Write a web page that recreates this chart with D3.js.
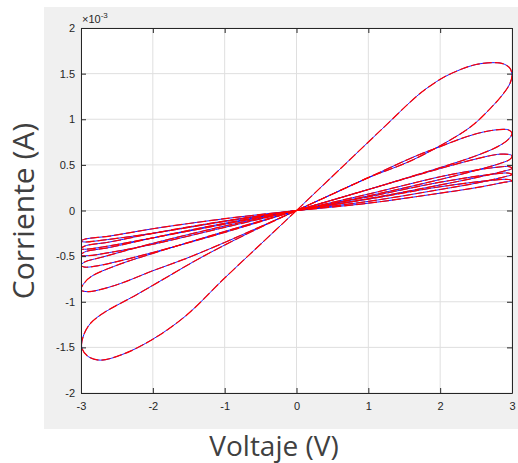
<!DOCTYPE html>
<html>
<head>
<meta charset="utf-8">
<script src="https://cdn.jsdelivr.net/npm/d3@7"></script>
<style>
  body { margin: 0; background: #fff; }
  svg { display: block; }
  .tick text { font-family: "Liberation Sans", Arial, sans-serif; font-size: 11px; fill: #262626; }
</style>
</head>
<body>
<svg id="chart" width="518" height="463"></svg>
<script>
// Memristor I-V loops (current in mA, shown with x10^-3 factor)

var xTicks = [-3, -2, -1, 0, 1, 2, 3];
var yTicks = [-2, -1.5, -1, -0.5, 0, 0.5, 1, 1.5, 2];

// first quadrant lobes: origin -> lower branch -> tip -> upper branch -> origin
var loop1Q1 = [[0,0],[0.5,0.18],[1,0.36],[1.55,0.53],[2,0.71],[2.43,0.92],[2.7,1.12],[2.88,1.28],[2.97,1.39],[3,1.48],[2.97,1.56],[2.87,1.61],[2.72,1.62],[2.5,1.6],[2.3,1.55],[2.05,1.46],[1.85,1.36],[1.67,1.25],[1.2,0.9],[0.6,0.45],[0,0]];
var loop2Q1 = [[0,0],[1,0.23],[1.67,0.39],[2,0.47],[2.5,0.6],[2.8,0.7],[2.95,0.78],[3,0.845],[2.96,0.88],[2.88,0.89],[2.6,0.86],[2.3,0.79],[2,0.7],[1.67,0.6],[1,0.36],[0,0]];
var loop3Q1 = [[0,0],[1,0.16],[2,0.34],[2.5,0.44],[2.85,0.52],[2.97,0.56],[3,0.6],[2.95,0.615],[2.8,0.615],[2.5,0.565],[2,0.46],[1,0.23],[0,0]];
var loop4Q1 = [[0,0],[1,0.13],[2,0.28],[2.5,0.36],[2.88,0.43],[3,0.46],[2.96,0.48],[2.75,0.47],[2.4,0.43],[2,0.37],[1,0.18],[0,0]];
var loop5Q1 = [[0,0],[1,0.1],[2,0.23],[2.5,0.3],[2.9,0.37],[3,0.395],[2.95,0.41],[2.7,0.395],[2,0.31],[1,0.15],[0,0]];
var loop6Q1 = [[0,0],[1,0.08],[2,0.19],[2.5,0.25],[2.9,0.31],[3,0.325],[2.95,0.34],[2.7,0.33],[2,0.26],[1,0.125],[0,0]];

// third quadrant lobes
var loop1Q3 = [[0,0],[-0.5,-0.37],[-1,-0.74],[-1.55,-1.16],[-2,-1.41],[-2.4,-1.57],[-2.73,-1.64],[-2.9,-1.6],[-2.99,-1.5],[-2.96,-1.36],[-2.86,-1.23],[-2.68,-1.12],[-2.22,-0.92],[-1.76,-0.71],[-1.34,-0.52],[-0.7,-0.26],[0,0]];
var loop2Q3 = [[0,0],[-1,-0.35],[-1.55,-0.53],[-2,-0.66],[-2.45,-0.8],[-2.75,-0.87],[-2.9,-0.89],[-3,-0.87],[-2.95,-0.79],[-2.85,-0.72],[-2.5,-0.6],[-2,-0.47],[-1,-0.23],[0,0]];
var loop3Q3 = [[0,0],[-1,-0.24],[-2,-0.46],[-2.5,-0.56],[-2.8,-0.61],[-2.95,-0.62],[-3,-0.6],[-2.95,-0.565],[-2.7,-0.51],[-2,-0.36],[-1,-0.17],[0,0]];
var loop4Q3 = [[0,0],[-1,-0.185],[-2,-0.37],[-2.6,-0.46],[-2.9,-0.495],[-3,-0.49],[-2.95,-0.455],[-2.6,-0.405],[-2,-0.3],[-1,-0.14],[0,0]];
var loop5Q3 = [[0,0],[-1,-0.15],[-2,-0.3],[-2.7,-0.4],[-2.95,-0.425],[-3,-0.42],[-2.95,-0.39],[-2.6,-0.345],[-2,-0.25],[-1,-0.115],[0,0]];
var loop6Q3 = [[0,0],[-1,-0.12],[-2,-0.25],[-2.7,-0.325],[-2.95,-0.345],[-3,-0.335],[-2.95,-0.315],[-2.6,-0.28],[-2,-0.2],[-1,-0.09],[0,0]];

var lobes = [loop1Q1, loop2Q1, loop3Q1, loop4Q1, loop5Q1, loop6Q1,
             loop1Q3, loop2Q3, loop3Q3, loop4Q3, loop5Q3, loop6Q3];

var svg = d3.select("#chart");
var axLeft = 81, axRight = 512, axTop = 28, axBottom = 393;

// figure background
svg.append("rect")
  .attr("x", 44).attr("y", 7)
  .attr("width", 474).attr("height", 422)
  .attr("fill", "#f0f0f0");

svg.append("rect")
  .attr("x", axLeft).attr("y", axTop)
  .attr("width", axRight - axLeft).attr("height", axBottom - axTop)
  .attr("fill", "#fff");

var x = d3.scaleLinear().domain([-3, 3]).range([axLeft, axRight]);
var y = d3.scaleLinear().domain([-2, 2]).range([axBottom, axTop]);

// grid
svg.append("g")
  .selectAll("line")
  .data(xTicks)
  .enter()
  .append("line")
  .attr("x1", function (d) { return x(d); })
  .attr("x2", function (d) { return x(d); })
  .attr("y1", axTop).attr("y2", axBottom)
  .attr("stroke", "#dfdfdf");

svg.append("g")
  .selectAll("line")
  .data(yTicks)
  .enter()
  .append("line")
  .attr("y1", function (d) { return y(d); })
  .attr("y2", function (d) { return y(d); })
  .attr("x1", axLeft).attr("x2", axRight)
  .attr("stroke", "#dfdfdf");

// curves
svg.append("clipPath").attr("id", "clip")
  .append("rect")
  .attr("x", axLeft).attr("y", axTop)
  .attr("width", axRight - axLeft).attr("height", axBottom - axTop);

var line = d3.line()
  .x(function (d) { return x(d[0]); })
  .y(function (d) { return y(d[1]); })
  .curve(d3.curveCatmullRom.alpha(0.5));

var plot = svg.append("g").attr("clip-path", "url(#clip)");

plot.selectAll(".blue")
  .data(lobes)
  .enter()
  .append("path")
  .attr("class", "blue")
  .attr("d", line)
  .attr("fill", "none")
  .attr("stroke", "#0000ff")
  .attr("stroke-width", 0.9);

plot.selectAll(".red")
  .data(lobes)
  .enter()
  .append("path")
  .attr("class", "red")
  .attr("d", line)
  .attr("fill", "none")
  .attr("stroke", "#ff0000")
  .attr("stroke-width", 1.2)
  .attr("stroke-dasharray", "9,3");

// axes
var fmt = function (d) { return String(d); };

svg.append("g")
  .attr("transform", "translate(0," + axBottom + ")")
  .call(d3.axisBottom(x).tickValues(xTicks).tickSizeInner(-5).tickSizeOuter(0).tickPadding(9).tickFormat(fmt));

svg.append("g")
  .attr("transform", "translate(" + axLeft + ",0)")
  .call(d3.axisLeft(y).tickValues(yTicks).tickSizeInner(-5).tickSizeOuter(0).tickPadding(6).tickFormat(fmt));

svg.append("g")
  .attr("transform", "translate(0," + axTop + ")")
  .call(d3.axisTop(x).tickValues(xTicks).tickSizeInner(-5).tickSizeOuter(0).tickFormat(""));

svg.append("g")
  .attr("transform", "translate(" + axRight + ",0)")
  .call(d3.axisRight(y).tickValues(yTicks).tickSizeInner(-5).tickSizeOuter(0).tickFormat(""));

svg.selectAll(".domain").attr("stroke", "#262626");
svg.selectAll(".tick line").attr("stroke", "#262626");

// exponent label
var expo = svg.append("text")
  .attr("x", 82).attr("y", 23)
  .attr("font-family", "Liberation Sans, Arial, sans-serif")
  .attr("font-size", 11)
  .attr("fill", "#262626");
expo.append("tspan").text("\u00d710");
expo.append("tspan").attr("dy", -5).attr("font-size", 8).text("-3");

// axis titles
svg.append("text")
  .attr("x", 274).attr("y", 456)
  .attr("text-anchor", "middle")
  .attr("font-family", "Open Sans, sans-serif")
  .attr("font-size", 28)
  .attr("fill", "#404040")
  .text("Voltaje (V)");

svg.append("text")
  .attr("transform", "translate(34,211) rotate(-90)")
  .attr("text-anchor", "middle")
  .attr("font-family", "Open Sans, sans-serif")
  .attr("font-size", 30)
  .attr("fill", "#404040")
  .text("Corriente (A)");
</script>
</body>
</html>
